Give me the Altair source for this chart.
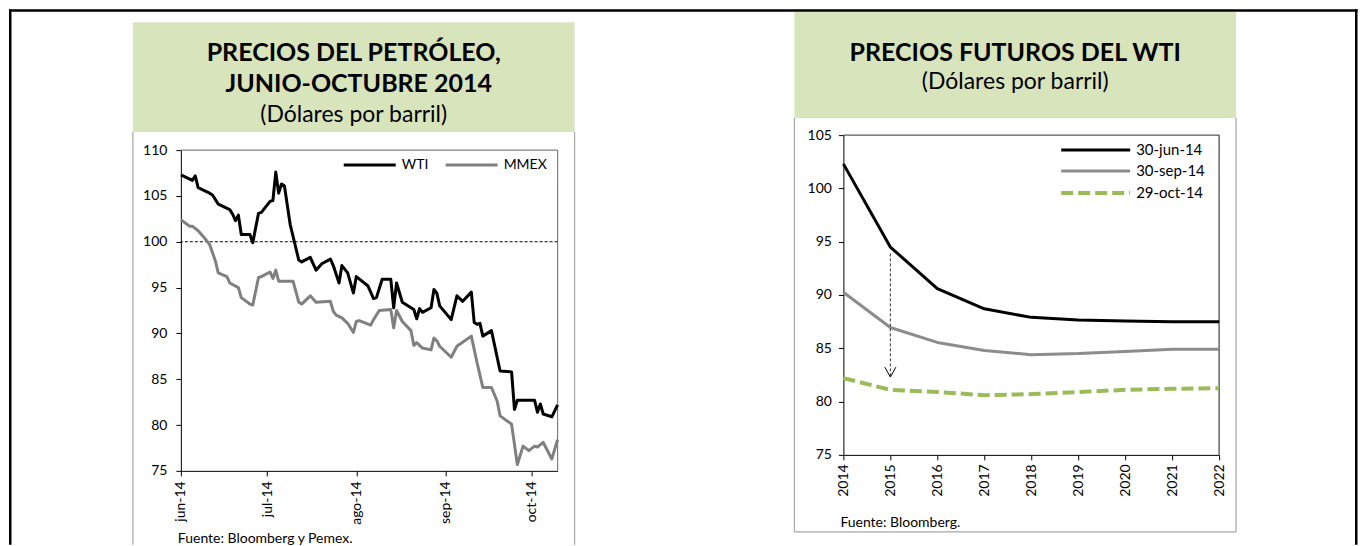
import json
import altair as alt
import pandas as pd

# ---------------- data ----------------
WTI_DATES = ["06-01", "06-05", "06-06", "06-07", "06-11", "06-12", "06-14", "06-18", "06-19", "06-20",
             "06-21", "06-22", "06-25", "06-26", "06-28", "06-29", "07-02", "07-03", "07-04", "07-05",
             "07-06", "07-07", "07-09", "07-10", "07-12", "07-13", "07-16", "07-18", "07-20", "07-23",
             "07-24", "07-26", "07-27", "07-29", "07-31", "08-01", "08-05", "08-07", "08-08", "08-10",
             "08-13", "08-14", "08-15", "08-17", "08-21", "08-22", "08-23", "08-24", "08-27", "08-28",
             "08-29", "08-30", "09-03", "09-05", "09-07", "09-10", "09-11", "09-12", "09-13", "09-14",
             "09-17", "09-20", "09-24", "09-25", "09-26", "10-02", "10-03", "10-04", "10-05", "10-08",
             "10-10"]
WTI_VALUES = [107.3, 106.7, 107.2, 105.9, 105.3, 105.1, 104.1, 103.5, 103.0, 102.3,
              102.9, 100.8, 100.8, 99.9, 103.1, 103.2, 104.4, 104.5, 107.6, 105.3,
              106.3, 106.1, 101.9, 100.6, 98.0, 97.8, 98.3, 96.9, 97.6, 98.1,
              97.4, 95.5, 97.4, 96.6, 94.4, 96.2, 95.2, 93.8, 93.9, 95.9,
              95.9, 92.8, 95.5, 93.4, 92.6, 91.6, 92.7, 92.3, 92.8, 94.8,
              94.4, 93.0, 91.5, 94.1, 93.5, 94.5, 91.2, 91.0, 91.1, 89.7,
              90.3, 85.9, 85.8, 81.7, 82.7, 82.7, 81.4, 82.3, 81.2, 80.9,
              82.2]
MMEX_DATES = ["06-01", "06-04", "06-05", "06-07", "06-09", "06-11", "06-13", "06-14", "06-17", "06-18",
              "06-21", "06-22", "06-25", "06-26", "06-28", "06-29", "07-02", "07-03", "07-04", "07-05",
              "07-10", "07-12", "07-13", "07-16", "07-18", "07-23", "07-24", "07-25", "07-27", "07-29",
              "07-31", "08-01", "08-02", "08-06", "08-07", "08-09", "08-13", "08-14", "08-15", "08-17",
              "08-20", "08-21", "08-22", "08-24", "08-27", "08-28", "08-29", "08-30", "09-03", "09-05",
              "09-10", "09-12", "09-14", "09-17", "09-19", "09-20", "09-24", "09-26", "09-28", "09-30",
              "10-02", "10-03", "10-05", "10-08", "10-10"]
MMEX_VALUES = [102.4, 101.7, 101.7, 101.2, 100.5, 99.7, 97.9, 96.6, 96.2, 95.5,
               95.0, 93.9, 93.2, 93.1, 96.1, 96.2, 96.7, 96.0, 96.9, 95.7,
               95.7, 93.4, 93.2, 94.1, 93.4, 93.5, 92.4, 92.0, 91.7, 91.1,
               90.1, 91.3, 91.4, 90.9, 91.5, 92.5, 92.6, 90.6, 92.5, 91.3,
               90.3, 88.7, 89.0, 88.4, 88.2, 89.5, 89.2, 88.6, 87.4, 88.6,
               89.7, 86.8, 84.1, 84.1, 82.6, 81.0, 80.1, 75.7, 77.7, 77.2,
               77.7, 77.6, 78.1, 76.3, 78.4]
SERIES_LEFT = ["WTI", "MMEX"]
MONTH_TICKS = [(2014, 6), (2014, 7), (2014, 8), (2014, 9), (2014, 10)]
MONTH_LABELS = ["jun-14", "jul-14", "ago-14", "sep-14", "oct-14"]
LEFT_Y_TICKS = [75, 80, 85, 90, 95, 100, 105, 110]
REF_LEVEL = 100

YEARS = [2014, 2015, 2016, 2017, 2018, 2019, 2020, 2021, 2022]
FUT_30JUN = [102.3, 94.5, 90.6, 88.7, 87.9, 87.65, 87.55, 87.5, 87.5]
FUT_30SEP = [90.25, 86.95, 85.55, 84.8, 84.4, 84.5, 84.7, 84.9, 84.9]
FUT_29OCT = [82.2, 81.1, 80.9, 80.6, 80.7, 80.9, 81.1, 81.2, 81.25]
SERIES_RIGHT = ["30-jun-14", "30-sep-14", "29-oct-14"]
RIGHT_Y_TICKS = [75, 80, 85, 90, 95, 100, 105]
ARROW_YEAR = 2015
ARROW_FROM = 93.9
ARROW_TO = 82.3

TITLE_LEFT = ["PRECIOS DEL PETRÓLEO,", "JUNIO-OCTUBRE 2014", "(Dólares por barril)"]
TITLE_RIGHT = ["PRECIOS FUTUROS DEL WTI", "(Dólares por barril)"]
SOURCE_LEFT = "Fuente: Bloomberg y Pemex."
SOURCE_RIGHT = "Fuente: Bloomberg."

# ---------------- styles ----------------
FONT = "Lato"
GREEN_HDR = "#D8E4BC"
PANEL_BORDER = "#A6A6A6"
ONE = pd.DataFrame({"k": [0]})


def box(x, x2, y, y2, fill):
    return alt.Chart(ONE).mark_rect(fill=fill).encode(
        x=alt.value(x), x2=alt.value(x2), y=alt.value(y), y2=alt.value(y2))


def seg(x, x2, y, y2, color, width=1, dash=None):
    kw = dict(color=color, strokeWidth=width)
    if dash:
        kw["strokeDash"] = dash
    return alt.Chart(ONE).mark_rule(**kw).encode(
        x=alt.value(x), x2=alt.value(x2), y=alt.value(y), y2=alt.value(y2))


def txt(s, x, y, size, weight="normal", align="center"):
    return alt.Chart(ONE).mark_text(text=s, font=FONT, fontSize=size, fontWeight=weight,
                                    align=align, baseline="middle", color="black").encode(
        x=alt.value(x), y=alt.value(y))


# ---------------- left chart ----------------
LW, LH = 377, 336
left_df = pd.DataFrame({
    "fecha": pd.to_datetime(["2014-" + d for d in WTI_DATES] + ["2014-" + d for d in MMEX_DATES]),
    "valor": WTI_VALUES + MMEX_VALUES,
    "serie": ["WTI"] * len(WTI_DATES) + ["MMEX"] * len(MMEX_DATES),
})

label_expr = json.dumps(MONTH_LABELS).replace('"', "'") + "[month(datum.value) - 5]"
x_left = alt.X("fecha:T", title=None,
               scale=alt.Scale(domain=[alt.DateTime(year=2014, month=6, date=1),
                                       alt.DateTime(year=2014, month=10, date=10)]),
               axis=alt.Axis(values=[alt.DateTime(year=y, month=m, date=1) for y, m in MONTH_TICKS],
                             labelExpr=label_expr, labelAngle=270, labelAlign="right",
                             labelBaseline="middle", labelPadding=5, tickSize=5,
                             labelFlush=False, labelOverlap=False, grid=False))
y_left = alt.Y("valor:Q", title=None,
               scale=alt.Scale(domain=[75, 110], range=[LH, 15], nice=False, zero=False),
               axis=alt.Axis(values=LEFT_Y_TICKS, tickSize=5, labelPadding=9, grid=False))

left_lines = alt.Chart(left_df).mark_line(strokeWidth=3, strokeJoin="round").encode(
    x=x_left, y=y_left,
    color=alt.Color("serie:N", scale=alt.Scale(domain=SERIES_LEFT, range=["#000000", "#808080"]),
                    legend=None),
    order=alt.Order("fecha:T"))
ref_rule = alt.Chart(pd.DataFrame({"valor": [REF_LEVEL]})).mark_rule(
    color="black", strokeWidth=1, strokeDash=[3, 2]).encode(y=alt.Y("valor:Q"))

left_layers = [
    box(-48, 394, -113, -3, GREEN_HDR),
    seg(-48, -48, -3, 410, PANEL_BORDER, 1.2),
    seg(394, 394, -3, 410, PANEL_BORDER, 1.2),
    txt(TITLE_LEFT[0], 173, -82, 25, "bold"),
    txt(TITLE_LEFT[1], 178, -51, 25, "bold"),
    txt(TITLE_LEFT[2], 173, -20, 23),
    seg(0, LW, 15, 15, "#808080", 1.2),
    seg(LW, LW, 15, LH, "#808080", 1.2),
    ref_rule,
    left_lines,
    seg(163, 215, 30, 30, "#000000", 3),
    txt(SERIES_LEFT[0], 221, 30, 14, align="left"),
    seg(265, 317, 30, 30, "#808080", 3),
    txt(SERIES_LEFT[1], 323, 30, 14, align="left"),
    txt(SOURCE_LEFT, -3, 404, 14, align="left"),
]
left = alt.layer(*left_layers).properties(width=LW, height=LH)

# ---------------- right chart ----------------
RW, RH = 376, 320
right_df = pd.DataFrame({
    "anio": YEARS * 3,
    "valor": FUT_30JUN + FUT_30SEP + FUT_29OCT,
    "serie": [SERIES_RIGHT[0]] * 9 + [SERIES_RIGHT[1]] * 9 + [SERIES_RIGHT[2]] * 9,
})
x_right = alt.X("anio:Q", title=None,
                scale=alt.Scale(domain=[YEARS[0], YEARS[-1]], nice=False, zero=False),
                axis=alt.Axis(values=YEARS, format="d", labelAngle=270, labelAlign="right",
                              labelBaseline="middle", labelPadding=4, tickSize=5,
                              labelFlush=False, labelOverlap=False, grid=False))
y_right = alt.Y("valor:Q", title=None,
                scale=alt.Scale(domain=[75, 105], nice=False, zero=False),
                axis=alt.Axis(values=RIGHT_Y_TICKS, tickSize=5, labelPadding=7, grid=False))


def fut_line(name, color, width, dash=None):
    kw = dict(color=color, strokeWidth=width, strokeJoin="round")
    if dash:
        kw["strokeDash"] = dash
    return alt.Chart(right_df).transform_filter(alt.datum.serie == name).mark_line(**kw).encode(
        x=x_right, y=y_right)


arrow_df = pd.DataFrame({"anio": [ARROW_YEAR], "desde": [ARROW_FROM], "hasta": [ARROW_TO]})
arrow_line = alt.Chart(arrow_df).mark_rule(color="#333333", strokeWidth=1, strokeDash=[3, 2]).encode(
    x=alt.X("anio:Q"), y=alt.Y("desde:Q"), y2="hasta:Q")
arrow_head = alt.Chart(arrow_df).mark_point(shape="M-1,-1.8L0,0L1,-1.8", filled=False, color="black",
                                            strokeWidth=1, size=121, opacity=1).encode(
    x=alt.X("anio:Q"), y=alt.Y("hasta:Q"))

# frame: page x 8 .. 1357.5 (right chart origin at page x 843, y 134)
FR_L, FR_R, FR_T, FR_B = -835, 514.5, -126, 410
right_layers = [
    box(-49, 393, -123.5, -17, GREEN_HDR),
    seg(-49, -49, -17, 397, PANEL_BORDER, 1.2),
    seg(393, 393, -17, 397, PANEL_BORDER, 1.2),
    seg(-49, 393, 397, 397, PANEL_BORDER, 1.2),
    txt(TITLE_RIGHT[0], 172, -82, 25, "bold"),
    txt(TITLE_RIGHT[1], 172, -53, 23),
    seg(0, RW, 0, 0, "#595959", 1.2),
    seg(RW, RW, 0, RH, "#404040", 1.2),
    fut_line(SERIES_RIGHT[1], "#8C8C8C", 3),
    fut_line(SERIES_RIGHT[2], "#9BBB59", 4, [12, 5]),
    fut_line(SERIES_RIGHT[0], "#000000", 3),
    arrow_line,
    arrow_head,
    seg(218, 287, 15, 15, "#000000", 3),
    txt(SERIES_RIGHT[0], 293, 15, 15, align="left"),
    seg(218, 287, 36, 36, "#8C8C8C", 3),
    txt(SERIES_RIGHT[1], 293, 36, 15, align="left"),
    seg(218, 287, 58, 58, "#9BBB59", 4, [12, 5]),
    txt(SERIES_RIGHT[2], 293, 58, 15, align="left"),
    txt(SOURCE_RIGHT, -3, 388, 14, align="left"),
    # outer black frame
    box(FR_L, FR_R, FR_T, FR_T + 2.5, "#000000"),
    box(FR_L, FR_L + 2.5, FR_T, FR_B, "#000000"),
    box(FR_R - 2.5, FR_R, FR_T, FR_B, "#000000"),
]
right = alt.layer(*right_layers).properties(width=RW, height=RH)

chart = alt.hconcat(left, right, spacing=286, bounds="flush").properties(
    padding=0
).configure_view(stroke="transparent").configure_axis(
    labelFont=FONT, labelFontSize=14, labelColor="black",
    domainColor="black", tickColor="black", domainWidth=1, tickWidth=1
)

chart.save("out.html", embed_options={"renderer": "svg", "actions": False})
